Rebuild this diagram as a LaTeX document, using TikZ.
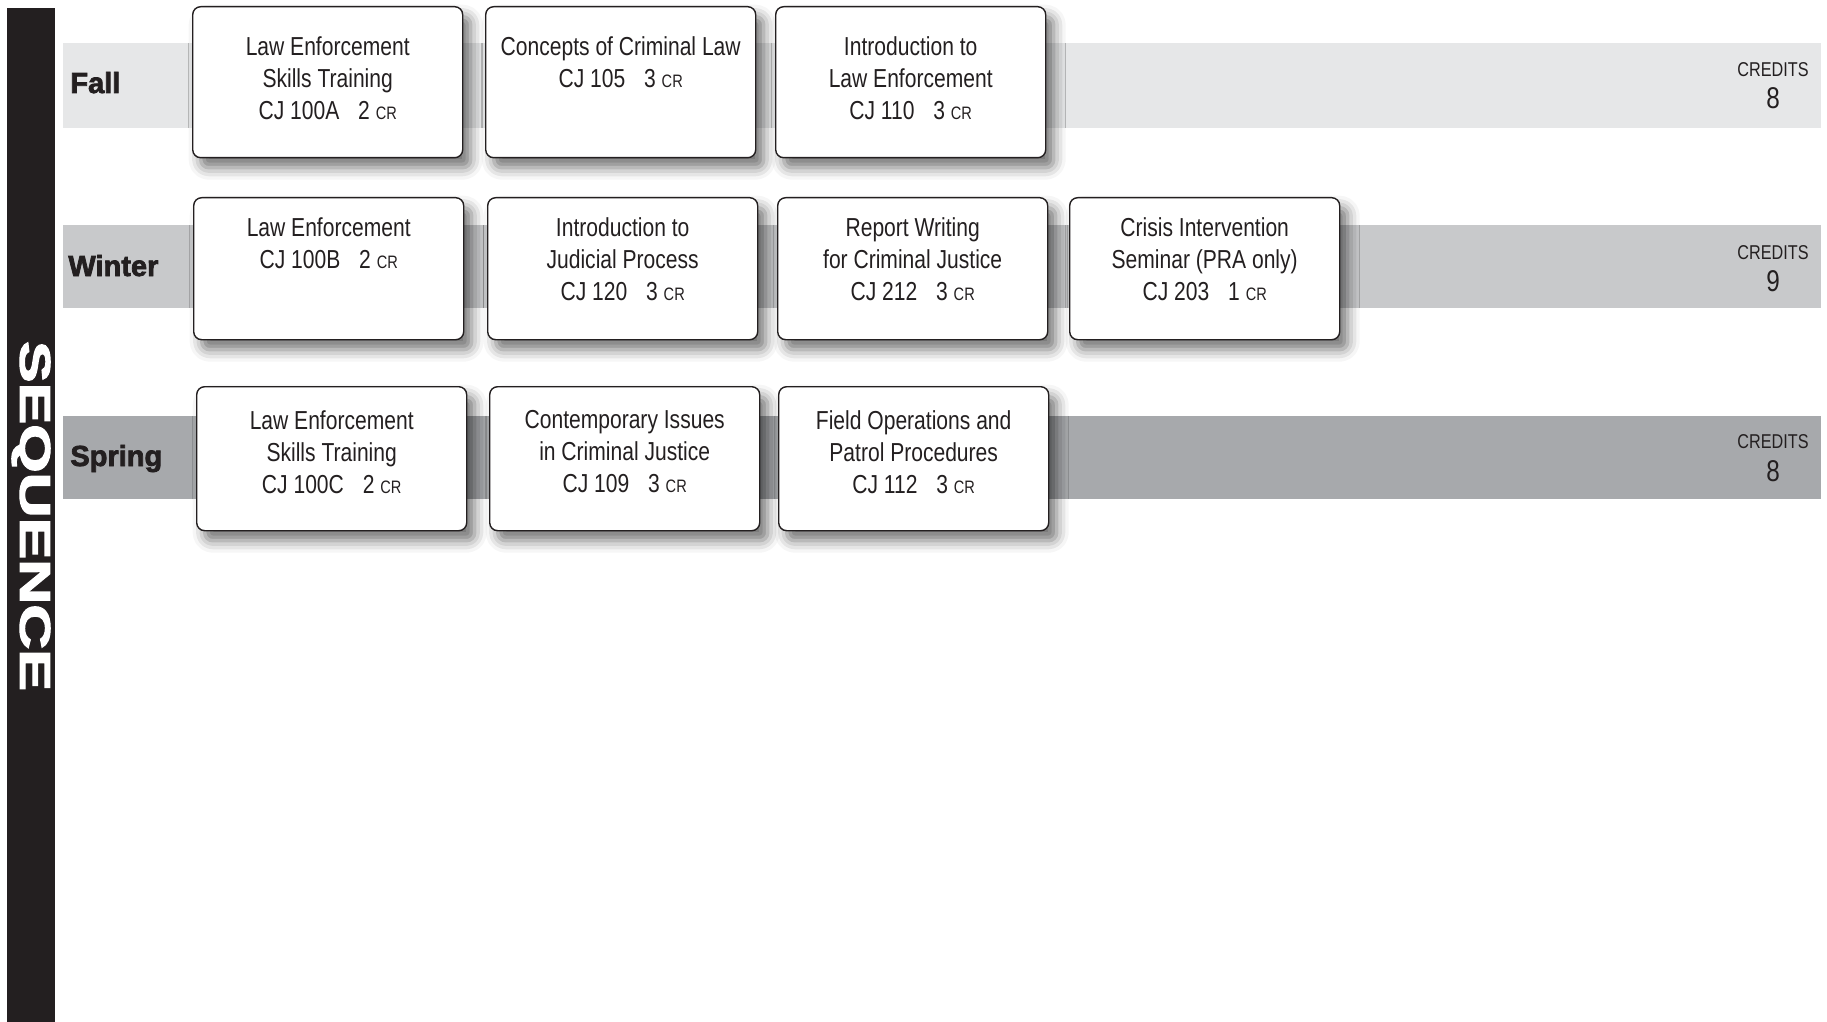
\documentclass[tikz,border=0pt]{standalone}
\usepackage{fontspec}
\setmainfont{Liberation Sans}[FakeStretch=0.81]
\newfontfamily\heavy{Liberation Sans}[BoldFeatures={FakeBold=2.5}]
\usepackage{graphicx}
\usepackage{tikz}
\usetikzlibrary{positioning,shadows.blur}
\usepackage{xcolor}
\definecolor{ink}{HTML}{231F20}
\definecolor{fallgray}{HTML}{E6E7E8}
\definecolor{wintergray}{HTML}{C8C9CB}
\definecolor{springgray}{HTML}{A7A9AC}
\newcommand{\cred}[1]{\hspace{0.5em}\ #1\ {\fontsize{9}{9}\selectfont CR}}

\begin{document}
\begin{tikzpicture} [
      x = 0.5pt, y = -0.5pt,
      every node/.style = { text = ink, inner sep = 0 },
      course/.style = { draw = ink, line width = 0.7pt, fill = white, rounded corners = 4pt,
        minimum width = 135pt, anchor = north west,
        blur shadow={shadow xshift=4pt,shadow yshift=-5pt,shadow blur radius=6pt,shadow opacity=55} },
      ctext/.style = { align = center, font = \fontsize{13}{16}\selectfont },
      season/.style = { anchor = base west, font = \fontsize{14.5}{18}\selectfont\heavy\bfseries },
      crlabel/.style = { font = \fontsize{10}{11}\selectfont },
      crnum/.style = { font = \fontsize{15}{18}\selectfont }
      ]
      \useasboundingbox (0,0) rectangle (1827,1022);

      % side bar
      \fill[ink] (7,8) rectangle (55,1022);
      \node[rotate = -90, text = white, font = \fontsize{21.5}{22}\selectfont\heavy\bfseries] (seq) at (31,516) {\scalebox{1.45}[1]{SEQUENCE}};

      % bands
      \fill[fallgray] (63,43) rectangle (1821,128);
      \fill[wintergray] (63,225) rectangle (1821,308);
      \fill[springgray] (63,416) rectangle (1821,499);

      \node[season] (fall) at (70,93) {Fall};
      \node[season] (winter) at (68,276) {Winter};
      \node[season] (spring) at (70,466) {Spring};

      % fall
      \node[course, minimum height = 75.5pt] (f1) at (192,6) {};
      \node[course, minimum height = 75.5pt] (f2) at (485,6) {};
      \node[course, minimum height = 75.5pt] (f3) at (775,6) {};
      \node[ctext, below = 15pt of f1.north] (f1t) {Law Enforcement\\Skills Training\\CJ 100A\cred{2}};
      \node[ctext, below = 15pt of f2.north] (f2t) {Concepts of Criminal Law\\CJ 105\cred{3}};
      \node[ctext, below = 15pt of f3.north] (f3t) {Introduction to\\Law Enforcement\\CJ 110\cred{3}};

      % winter
      \node[course, minimum height = 71pt] (w1) at (193,197) {};
      \node[course, minimum height = 71pt] (w2) at (487,197) {};
      \node[course, minimum height = 71pt] (w3) at (777,197) {};
      \node[course, minimum height = 71pt] (w4) at (1069,197) {};
      \node[ctext, below = 10pt of w1.north] (w1t) {Law Enforcement\\CJ 100B\cred{2}};
      \node[ctext, below = 10pt of w2.north] (w2t) {Introduction to\\Judicial Process\\CJ 120\cred{3}};
      \node[ctext, below = 10pt of w3.north] (w3t) {Report Writing\\for Criminal Justice\\CJ 212\cred{3}};
      \node[ctext, below = 10pt of w4.north] (w4t) {Crisis Intervention\\Seminar (PRA only)\\CJ 203\cred{1}};

      % spring
      \node[course, minimum height = 72pt] (s1) at (196,386) {};
      \node[course, minimum height = 72pt] (s2) at (489,386) {};
      \node[course, minimum height = 72pt] (s3) at (778,386) {};
      \node[ctext, below = 12pt of s1.north] (s1t) {Law Enforcement\\Skills Training\\CJ 100C\cred{2}};
      \node[ctext, below = 12pt of s2.north] (s2t) {Contemporary Issues\\in Criminal Justice\\CJ 109\cred{3}};
      \node[ctext, below = 12pt of s3.north] (s3t) {Field Operations and\\Patrol Procedures\\CJ 112\cred{3}};

      % credits
      \node[crlabel] (fcr) at (1773,70) {CREDITS};
      \node[crnum] (fcrn) at (1773,98) {8};
      \node[crlabel] (wcr) at (1773,253) {CREDITS};
      \node[crnum] (wcrn) at (1773,281) {9};
      \node[crlabel] (scr) at (1773,442) {CREDITS};
      \node[crnum] (scrn) at (1773,471) {8};
\end{tikzpicture}
\end{document}
